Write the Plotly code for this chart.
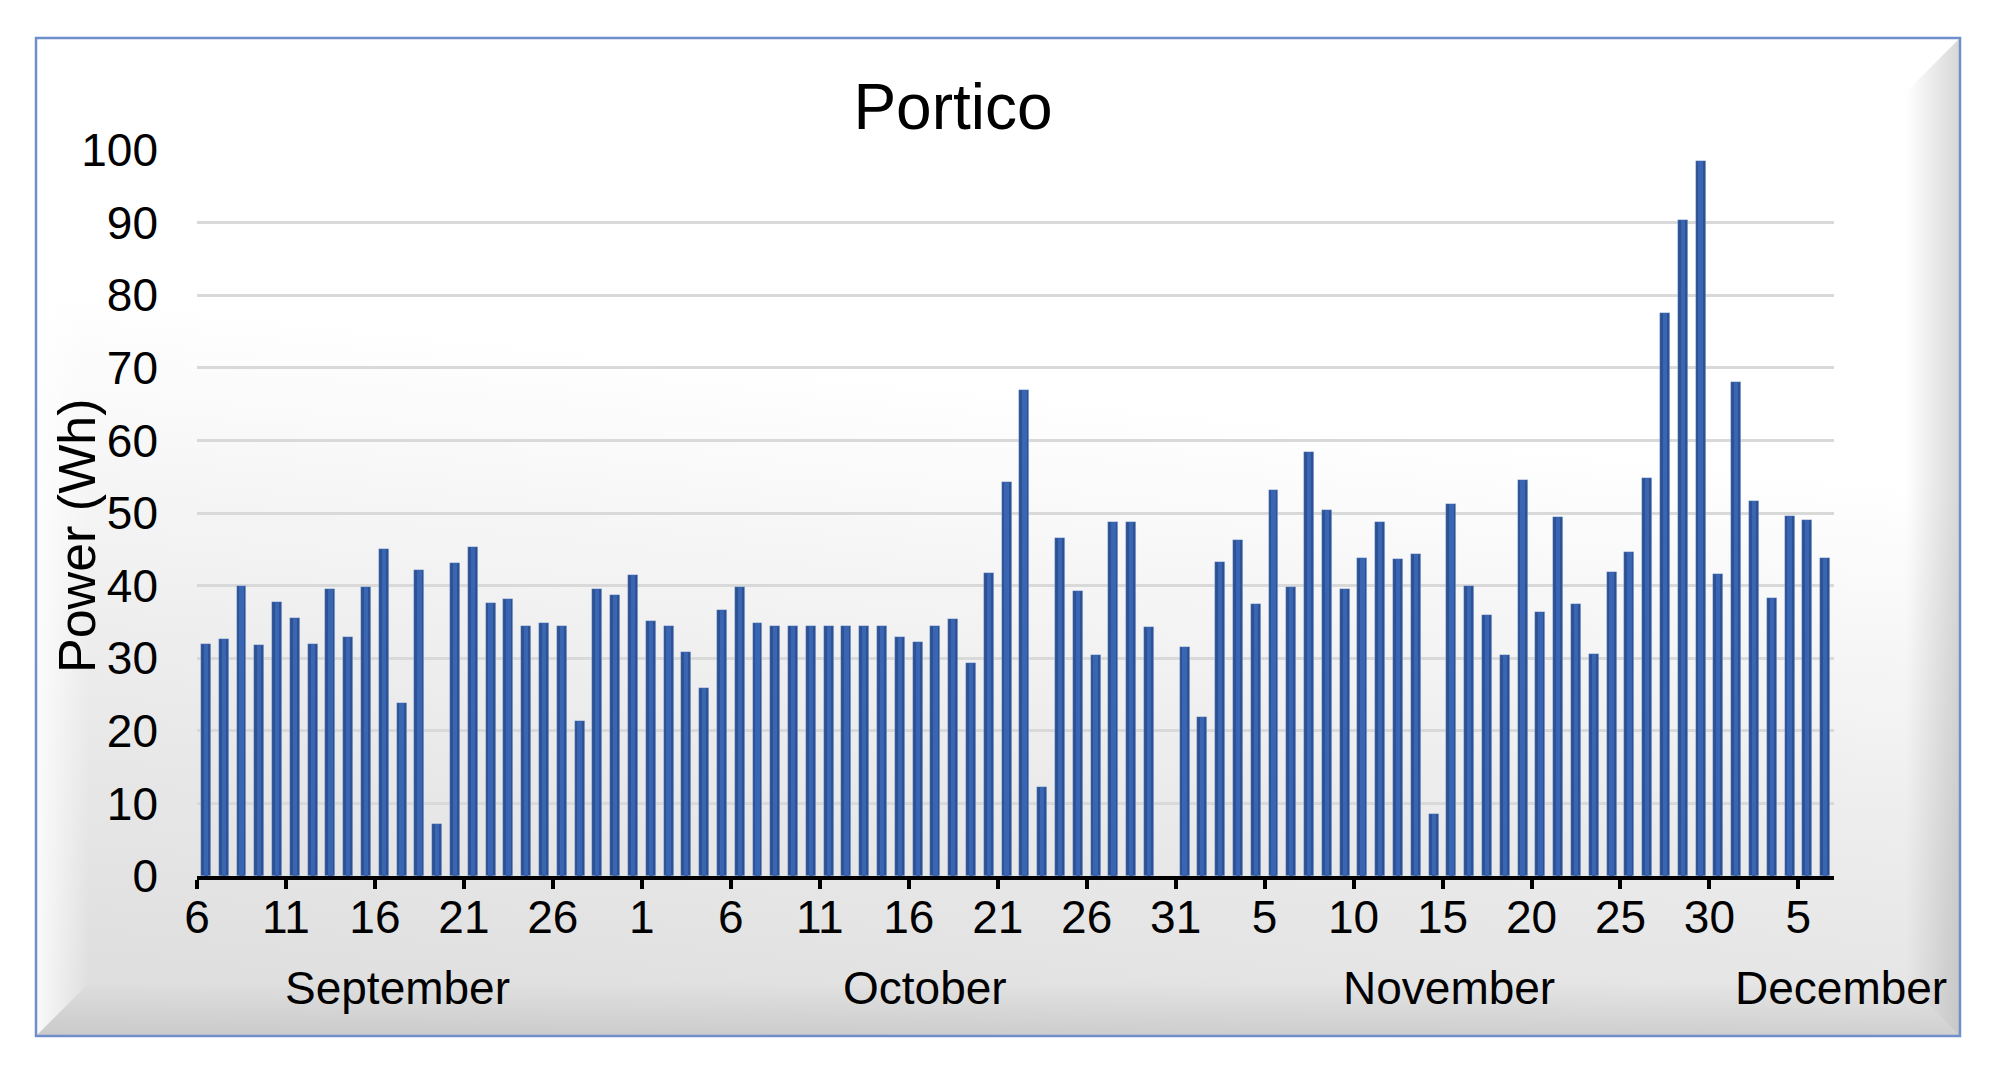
import base64
import pandas as pd
import plotly.graph_objects as go

# ---------------- data ----------------
start_date = "2019-09-06"
end_date = "2019-12-06"
days = pd.date_range(start_date, end_date, freq="D")

sep_values = [32.0, 32.6, 40.0, 31.8, 37.8, 35.6, 32.0, 39.5, 32.9, 39.8,
              45.0, 23.8, 42.2, 7.1, 43.1, 45.3, 37.6, 38.1, 34.5, 34.8,
              34.5, 21.3, 39.5, 38.7, 41.4]                      # Sep 6-30
oct_values = [35.1, 34.5, 30.9, 25.9, 36.7, 39.8, 34.8, 34.5, 34.5, 34.5,
              34.5, 34.5, 34.5, 34.5, 32.9, 32.3, 34.5, 35.4, 29.3, 41.7,
              54.3, 66.9, 12.3, 46.6, 39.2, 30.4, 48.8, 48.8, 34.3, None,
              31.5]                                              # Oct 1-31
nov_values = [21.9, 43.3, 46.3, 37.5, 53.2, 39.8, 58.4, 50.4, 39.5, 43.8,
              48.8, 43.6, 44.4, 8.5, 51.3, 40.0, 35.9, 30.4, 54.5, 36.3,
              49.5, 37.5, 30.6, 41.9, 44.6, 54.8, 77.6, 90.3, 98.5, 41.6]  # Nov 1-30
dec_values = [68.0, 51.7, 38.3, 49.6, 49.0, 43.8]                # Dec 1-6
power_wh = sep_values + oct_values + nov_values + dec_values

month_labels = ["September", "October", "November", "December"]
month_label_px = [397, 925, 1449, 1841]   # label centres in the page (px)
y_ticks = [0, 10, 20, 30, 40, 50, 60, 70, 80, 90, 100]

# ---------------- layout geometry ----------------
OFF = 8                       # default page body margin
W, H = 2000 - OFF, 1065 - OFF
PL, PR, PT, PB = 197 - OFF, 1834 - OFF, 150 - OFF, 876 - OFF   # plot area box
ML, MR, MT, MB = PL, W - PR, PT, H - PB
PW, PH = PR - PL, PB - PT
FONT = "Liberation Sans, Arial, sans-serif"
DAY_MS = 86400000

bar_x = days + pd.Timedelta(hours=12)

fx, fy, fw, fh = 36 - OFF, 38 - OFF, 1924, 998
bv = 54
svg = f"""<svg xmlns='http://www.w3.org/2000/svg' width='{W}' height='{H}' viewBox='0 0 {W} {H}' preserveAspectRatio='none'>
<defs>
<linearGradient id='bg' x1='0' y1='1' x2='0.2' y2='0'>
<stop offset='0' stop-color='#dcdcdc'/><stop offset='0.35' stop-color='#ebebeb'/><stop offset='0.72' stop-color='#ffffff'/><stop offset='1' stop-color='#ffffff'/>
</linearGradient>
<linearGradient id='lf' x1='0' y1='0' x2='1' y2='0'>
<stop offset='0' stop-color='#ffffff' stop-opacity='0.85'/><stop offset='1' stop-color='#ffffff' stop-opacity='0'/>
</linearGradient>
<linearGradient id='rt' x1='0' y1='0' x2='1' y2='0'>
<stop offset='0' stop-color='#9a9a9a' stop-opacity='0'/><stop offset='1' stop-color='#9a9a9a' stop-opacity='0.4'/>
</linearGradient>
<linearGradient id='bt' x1='0' y1='0' x2='0' y2='1'>
<stop offset='0' stop-color='#a8a8a8' stop-opacity='0'/><stop offset='1' stop-color='#a8a8a8' stop-opacity='0.35'/>
</linearGradient>
</defs>
<rect x='0' y='0' width='{W}' height='{H}' fill='#ffffff'/>
<rect x='{fx}' y='{fy}' width='{fw}' height='{fh}' fill='url(#bg)'/>
<polygon points='{fx},{fy} {fx+bv},{fy+bv} {fx+bv},{fy+fh-bv} {fx},{fy+fh}' fill='url(#lf)'/>
<polygon points='{fx},{fy+fh} {fx+bv},{fy+fh-bv} {fx+fw-bv},{fy+fh-bv} {fx+fw},{fy+fh}' fill='url(#bt)'/>
<polygon points='{fx+fw},{fy} {fx+fw-bv},{fy+bv} {fx+fw-bv},{fy+fh-bv} {fx+fw},{fy+fh}' fill='url(#rt)'/>
<rect x='{fx}' y='{fy}' width='{fw}' height='{fh}' fill='none' stroke='#6f8fcb' stroke-width='2.5'/>
</svg>"""
svg_uri = "data:image/svg+xml;base64," + base64.b64encode(svg.encode()).decode()

fig = go.Figure()
fig.add_trace(go.Bar(
    x=bar_x, y=power_wh, width=0.56 * DAY_MS,
    marker=dict(color="#2c5294", line=dict(color="rgba(200,215,245,0.5)", width=0.6)),
    hoverinfo="x+y", showlegend=False,
))
fig.add_trace(go.Bar(
    x=bar_x, y=power_wh, width=0.24 * DAY_MS,
    marker=dict(color="#3a65b3", line=dict(width=0)),
    hoverinfo="skip", showlegend=False,
))

annotations = []
for lab, px in zip(month_labels, month_label_px):
    annotations.append(dict(
        x=(px - OFF - PL) / PW, xref="paper", y=-(988 - OFF - PB) / PH, yref="paper",
        text=lab, showarrow=False, xanchor="center", yanchor="middle",
        font=dict(family=FONT, size=46, color="#000000"),
    ))
annotations.append(dict(
    x=(77 - OFF - PL) / PW, xref="paper", y=(PB - (536 - OFF)) / PH, yref="paper",
    text="Power (Wh)", textangle=-90, showarrow=False,
    xanchor="center", yanchor="middle",
    font=dict(family=FONT, size=52, color="#000000"),
))

fig.update_layout(
    width=W, height=H,
    margin=dict(l=ML, r=MR, t=MT, b=MB, pad=0),
    paper_bgcolor="#ffffff",
    plot_bgcolor="#ffffff",
    barmode="overlay",
    bargap=0,
    title=dict(text="Portico", x=(953 - OFF) / W, xanchor="center", xref="container",
               y=1 - (107 - OFF) / H, yanchor="middle", yref="container",
               font=dict(family=FONT, size=64, color="#000000")),
    font=dict(family=FONT, color="#000000"),
    annotations=annotations,
    images=[dict(source=svg_uri, xref="paper", yref="paper",
                 x=-ML / PW, y=1 + MT / PH, sizex=W / PW, sizey=H / PH,
                 xanchor="left", yanchor="top", sizing="stretch", layer="below")],
    xaxis=dict(
        type="date",
        range=[start_date, "2019-12-07"],
        tick0=start_date, dtick=5 * DAY_MS, tickformat="%-d",
        ticks="outside", ticklen=9, tickwidth=3.5, tickcolor="#000000",
        showline=True, linecolor="#000000", linewidth=4,
        showgrid=False, zeroline=False,
        tickfont=dict(family=FONT, size=46, color="#000000"),
        ticklabelstandoff=-11,
    ),
    yaxis=dict(
        range=[0, 100], tickvals=y_ticks,
        showgrid=True, gridcolor="#d9d9d9", gridwidth=2.5,
        zeroline=False, showline=False, ticks="",
        tickfont=dict(family=FONT, size=46, color="#000000"),
        ticklabelstandoff=38,
    ),
)

fig.write_html("out.html")
